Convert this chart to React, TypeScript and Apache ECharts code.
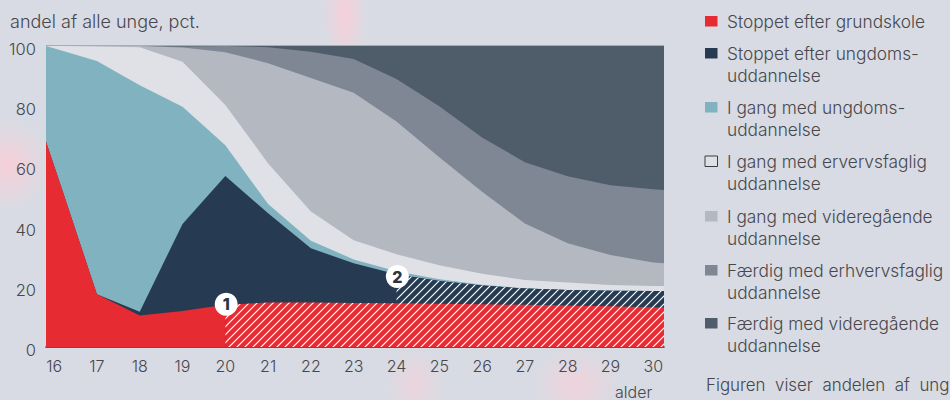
import React, { useEffect, useRef } from "react";
import * as echarts from "echarts";

const FONT = "Inter";
const INK = "#47474c";

const yTicks = [0, 20, 40, 60, 80, 100];
const xTicks = [16, 17, 18, 19, 20, 21, 22, 23, 24, 25, 26, 27, 28, 29, 30];
const X_MIN = 15.81;
const X_MAX = 30.25;

// Every list below is the upper edge of a band, read as a cumulative share
const ages = [15.81, 16.21, 17, 18, 19, 20, 21, 22, 23, 24, 25, 26, 27, 28, 29, 30, 30.25];
const redTop = [68.2, 51.3, 17.5, 10.5, 12, 14, 14.8, 14.8, 14.6, 14.5, 14.4, 14.2, 14, 13.8, 13.5, 13.2, 13.1];
const navyTop = [68.2, 51.3, 17.5, 11.7, 40.9, 56.8, 44.4, 32.8, 27.8, 24.2, 21.9, 20.4, 19.4, 18.9, 18.7, 18.6, 18.6];
const tealTop = [100, 98.3, 95, 87, 79.8, 67, 47.5, 35.3, 29.1, 25.2, 22.5, 20.7, 19.5, 18.9, 18.7, 18.6, 18.6];
const lightTop = [100, 100, 99.8, 99.6, 94.8, 80.4, 61, 45, 35.5, 30.8, 27.2, 24.3, 22.3, 21.4, 20.6, 20.3, 20.3];
const greyTop = [100, 100, 100, 100, 99.5, 97.9, 94.3, 89.4, 84.5, 74.9, 63, 51.6, 41, 34.5, 30.6, 28.1, 27.8];
const slateTop = [100, 100, 100, 100, 99.8, 100, 99.6, 98.1, 95.7, 89, 80, 69.6, 61.4, 56.7, 53.7, 52.4, 52.2];
const darkTop = [100, 100, 100, 100, 100, 100, 100, 100, 100, 100, 100, 100, 100, 100, 100, 100, 100];

const RED = "#e62b33";
const NAVY = "#263b51";
const TEAL = "#80b3bf";
const LIGHT = "#dfe1e7";
const GREY = "#b3b8c1";
const SLATE = "#7f8694";
const DARK = "#4f5c69";
const PAGE = "#d8dbe3";

const legendNames = [
  "Stoppet efter grundskole",
  "Stoppet efter ungdoms-\nuddannelse",
  "I gang med ungdoms-\nuddannelse",
  "I gang med ervervsfaglig\nuddannelse",
  "I gang med videregående\nuddannelse",
  "Færdig med erhvervsfaglig\nuddannelse",
  "Færdig med videregående\nuddannelse",
];
const legendColors = [RED, NAVY, TEAL, LIGHT, GREY, SLATE, DARK];
const legendTops = [16, 48, 102, 156, 211, 265, 318];

function pairs(values: number[], from = X_MIN, to = X_MAX) {
  return ages.map((a, i) => [a, values[i]]).filter((p) => p[0] >= from && p[0] <= to);
}

function hatch(bg: string) {
  const size = 8;
  const c = document.createElement("canvas");
  c.width = size;
  c.height = size;
  const g = c.getContext("2d")!;
  g.fillStyle = bg;
  g.fillRect(0, 0, size, size);
  g.strokeStyle = "#ffffff";
  g.lineWidth = 1.2;
  g.beginPath();
  g.moveTo(-2, 2);
  g.lineTo(2, -2);
  g.moveTo(-2, size + 2);
  g.lineTo(size + 2, -2);
  g.moveTo(size - 2, size + 2);
  g.lineTo(size + 2, size - 2);
  g.stroke();
  return { image: c, repeat: "repeat" };
}

function band(name: string, color: any, data: number[][], extra: any = {}) {
  return {
    type: "line",
    name,
    data,
    showSymbol: false,
    silent: true,
    lineStyle: { width: 0 },
    itemStyle: { color: typeof color === "string" ? color : RED },
    areaStyle: { color, opacity: 1 },
    ...extra,
  };
}

function badge(label: string, coord: number[]) {
  return {
    silent: true,
    symbol: "circle",
    symbolSize: 23,
    itemStyle: { color: "#ffffff" },
    label: {
      show: true,
      position: "inside",
      formatter: label,
      color: "#2b3440",
      fontFamily: FONT,
      fontWeight: 800,
      fontSize: 16,
    },
    data: [{ coord }],
  };
}

function glow(cx: number, cy: number, rx: number, ry: number, a: number) {
  return {
    type: "ellipse",
    z: -10,
    silent: true,
    shape: { cx, cy, rx, ry },
    style: {
      fill: {
        type: "radial",
        x: 0.5,
        y: 0.5,
        r: 0.5,
        colorStops: [
          { offset: 0, color: `rgba(255,205,215,${a})` },
          { offset: 1, color: "rgba(255,205,215,0)" },
        ],
      },
    },
  };
}

export default function App() {
  const ref = useRef<HTMLDivElement>(null);
  useEffect(() => {
    document.body.style.margin = "0";
    document.body.style.overflow = "hidden";
    const chart = echarts.init(ref.current!, undefined, { renderer: "svg" });
    const txt = (x: number, y: number, text: string, size = 17.3, lineHeight = 22) => ({
      type: "text",
      x,
      y,
      silent: true,
      style: {
        text,
        fill: INK,
        font: `300 ${size}px ${FONT}`,
        lineHeight,
        textVerticalAlign: "top",
      },
    });
    chart.setOption({
      animation: false,
      backgroundColor: PAGE,
      grid: { left: 46, right: 286, top: 46, bottom: 53, containLabel: false },
      xAxis: {
        type: "value",
        min: X_MIN,
        max: X_MAX,
        splitLine: { show: false },
        axisTick: { show: false },
        axisLine: { show: true, onZero: false, lineStyle: { color: "#2a2a2e", width: 1.5 } },
        axisLabel: {
          customValues: xTicks,
          color: INK,
          fontFamily: FONT,
          fontWeight: 300,
          fontSize: 16,
          margin: 11,
        },
      },
      yAxis: {
        type: "value",
        min: 0,
        max: 100,
        interval: 20,
        splitLine: { show: false },
        axisTick: { show: false },
        axisLine: { show: false },
        axisLabel: {
          customValues: yTicks,
          color: INK,
          fontFamily: FONT,
          fontWeight: 300,
          fontSize: 16.5,
          margin: 10,
          verticalAlign: "top",
          lineHeight: 6,
        },
      },
      series: [
        band("Færdig med videregående uddannelse", DARK, pairs(darkTop)),
        band("Færdig med erhvervsfaglig uddannelse", SLATE, pairs(slateTop)),
        band("I gang med videregående uddannelse", GREY, pairs(greyTop)),
        band("I gang med ervervsfaglig uddannelse", LIGHT, pairs(lightTop)),
        band("I gang med ungdomsuddannelse", TEAL, pairs(tealTop)),
        band("Stoppet efter ungdomsuddannelse", NAVY, pairs(navyTop)),
        band("Stoppet efter ungdomsuddannelse (skraveret)", hatch(NAVY), pairs(navyTop, 24)),
        band("Stoppet efter grundskole", RED, pairs(redTop, X_MIN, 20)),
        band("Stoppet efter grundskole (skraveret)", hatch(RED), pairs(redTop, 20), {
          markPoint: badge("1", [20.02, 14.2]),
        }),
        band("Markering 2", "rgba(0,0,0,0)", pairs(redTop, 24, 24), {
          markPoint: badge("2", [24.02, 23.4]),
        }),
      ],
      graphic: {
        elements: [
          glow(8, 165, 42, 45, 0.8),
          glow(345, 15, 22, 55, 0.8),
          glow(415, 385, 30, 40, 0.5),
          glow(575, 385, 45, 38, 0.6),
          {
            type: "line",
            silent: true,
            shape: { x1: 46, y1: 45.5, x2: 664, y2: 45.5 },
            style: { stroke: "#a7adb8", lineWidth: 1 },
          },
          txt(10, 10, "andel af alle unge, pct.", 18),
          txt(615, 385, "alder", 16, 14),
          ...legendNames.flatMap((name, i) => [
            {
              type: "rect",
              silent: true,
              shape: { x: 705, y: legendTops[i], width: 12.5, height: 10.5 },
              style:
                i === 3
                  ? { fill: LIGHT, stroke: "#3c3c40", lineWidth: 1 }
                  : { fill: legendColors[i] },
            },
            txt(727, legendTops[i] - 5.5, name),
          ]),
          txt(706, 374, "Figuren  viser  andelen  af  ung", 16.9),
        ],
      },
    });
    return () => chart.dispose();
  }, []);
  return <div ref={ref} style={{ width: 950, height: 400 }} />;
}
